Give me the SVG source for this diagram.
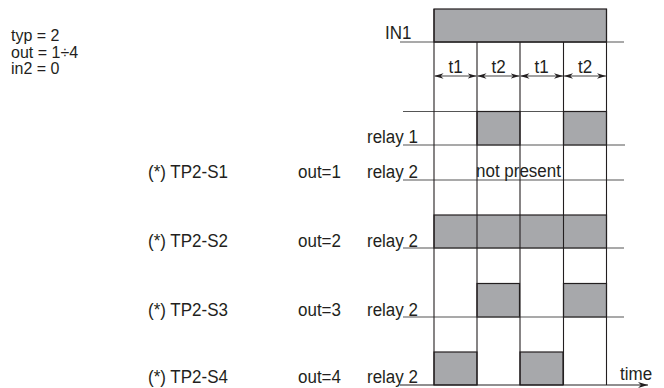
<svg xmlns="http://www.w3.org/2000/svg" width="664" height="388" viewBox="0 0 664 388">
<style>
text{font-family:"Liberation Sans",Arial,sans-serif;font-size:17px;fill:#231f20}
.p{font-size:16px}
.row{stroke:#555;stroke-width:1.2;fill:none}
.v{stroke:#231f20;stroke-width:1.1;fill:none}
.box{fill:#a7a8ab;stroke:#231f20;stroke-width:1.2}
.dim{stroke:#444;stroke-width:1.1;fill:none;marker-start:url(#ah);marker-end:url(#ah)}
</style>
<defs>
<marker id="ah" viewBox="0 0 10 6" refX="10" refY="3" markerWidth="9" markerHeight="6" orient="auto-start-reverse" markerUnits="userSpaceOnUse">
<path d="M0,0 L10,3 L0,6 L3,3 Z" fill="#231f20"/>
</marker>
<marker id="ta" viewBox="0 0 10 6" refX="10" refY="3" markerWidth="11" markerHeight="6" orient="auto" markerUnits="userSpaceOnUse">
<path d="M0,0 L10,3 L0,6 L3,3 Z" fill="#231f20"/>
</marker>
</defs>
<g id="params">
<text class="p" x="11" y="41">typ = 2</text>
<text class="p" x="11" y="57.5">out = 1÷4</text>
<text class="p" x="11" y="74">in2 = 0</text>
</g>
<g id="in1">
<rect class="box" x="434" y="9" width="172.5" height="33" stroke="none"/>
<line class="row" x1="400" y1="42" x2="624" y2="42"/>
<line class="v" x1="434" y1="42" x2="606.5" y2="42"/>
<text transform="translate(385,39) scale(1,1.12)">IN1</text>
</g>
<g id="relay1">
<line class="row" x1="403" y1="111.5" x2="606.5" y2="111.5"/>
<rect class="box" x="477" y="111.5" width="43" height="33.5"/>
<rect class="box" x="563.5" y="111.5" width="43" height="33.5"/>
<line class="row" x1="403" y1="145" x2="625" y2="145"/>
<text transform="translate(367,143) scale(1,1.12)">relay 1</text>
</g>
<g id="tp2-s1">
<line class="row" x1="403" y1="180" x2="624" y2="180"/>
<text transform="translate(148,178) scale(1,1.12)">(*) TP2-S1</text>
<text transform="translate(298,178) scale(1,1.12)">out=1</text>
<text transform="translate(367,178) scale(1,1.12)">relay 2</text>
<text transform="translate(476,177) scale(1,1.12)">not present</text>
</g>
<g id="tp2-s2">
<rect class="box" x="434" y="215" width="172.5" height="33"/>
<line class="row" x1="403" y1="248" x2="624" y2="248"/>
<text transform="translate(148,247) scale(1,1.12)">(*) TP2-S2</text>
<text transform="translate(298,247) scale(1,1.12)">out=2</text>
<text transform="translate(367,247) scale(1,1.12)">relay 2</text>
</g>
<g id="tp2-s3">
<rect class="box" x="477" y="283.5" width="42.5" height="33.5"/>
<rect class="box" x="563.5" y="283.5" width="43" height="33.5"/>
<line class="row" x1="403" y1="317" x2="624" y2="317"/>
<text transform="translate(148,316) scale(1,1.12)">(*) TP2-S3</text>
<text transform="translate(298,316) scale(1,1.12)">out=3</text>
<text transform="translate(367,316) scale(1,1.12)">relay 2</text>
</g>
<g id="tp2-s4">
<rect class="box" x="434" y="352" width="43" height="33"/>
<rect class="box" x="520" y="352" width="43" height="33"/>
<text transform="translate(148,383) scale(1,1.12)">(*) TP2-S4</text>
<text transform="translate(298,383) scale(1,1.12)">out=4</text>
<text transform="translate(367,383) scale(1,1.12)">relay 2</text>
<text transform="translate(620,380) scale(1,1.12)">time</text>
</g>
<g id="connectors">
<line class="v" x1="434" y1="9" x2="434" y2="385"/>
<line class="v" x1="477" y1="42" x2="477" y2="385"/>
<line class="v" x1="520" y1="42" x2="520" y2="385"/>
<line class="v" x1="563.5" y1="42" x2="563.5" y2="385"/>
<line class="v" x1="606.5" y1="9" x2="606.5" y2="385"/>
<line class="dim" x1="434.5" y1="76" x2="476.5" y2="76"/>
<line class="dim" x1="477.5" y1="76" x2="519.5" y2="76"/>
<line class="dim" x1="520.5" y1="76" x2="563" y2="76"/>
<line class="dim" x1="564" y1="76" x2="606" y2="76"/>
<line x1="400" y1="385" x2="648" y2="385" stroke="#231f20" stroke-width="1.2" marker-end="url(#ta)"/>
</g>
<g id="dim-labels">
<text transform="translate(455.5,73) scale(1,1.12)" text-anchor="middle">t1</text>
<text transform="translate(498.5,73) scale(1,1.12)" text-anchor="middle">t2</text>
<text transform="translate(541.5,73) scale(1,1.12)" text-anchor="middle">t1</text>
<text transform="translate(585,73) scale(1,1.12)" text-anchor="middle">t2</text>
</g>
</svg>
